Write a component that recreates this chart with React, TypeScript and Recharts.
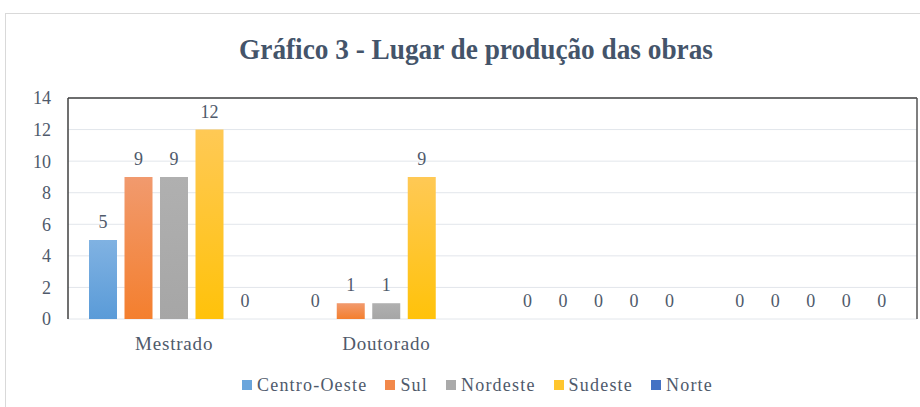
import { BarChart, Bar, XAxis, YAxis, CartesianGrid, LabelList, ReferenceLine } from 'recharts';

const categories = ['Mestrado', 'Doutorado', ' ', '  '];
const centroOeste = [5, 0, 0, 0];
const sul = [9, 1, 0, 0];
const nordeste = [9, 1, 0, 0];
const sudeste = [12, 9, 0, 0];
const norte = [0, null, 0, 0];
const yTicks = [0, 2, 4, 6, 8, 10, 12, 14];

const SERIES = [
  { key: 'Centro-Oeste', values: centroOeste, top: '#80b2e2', bottom: '#5a9bd8', legend: '#6aa5dc' },
  { key: 'Sul', values: sul, top: '#f19a6e', bottom: '#f47f2e', legend: '#f2884a' },
  { key: 'Nordeste', values: nordeste, top: '#b0b0b0', bottom: '#a6a6a6', legend: '#aaaaaa' },
  { key: 'Sudeste', values: sudeste, top: '#ffc955', bottom: '#ffc20a', legend: '#ffc62e' },
  { key: 'Norte', values: norte, top: '#4d7bcb', bottom: '#4472c4', legend: '#4472c4' }
];

const FONT = 'Liberation Serif';
const TEXT = '#4f5a6b';

const data = categories.map((cat, i) => {
  const row: Record<string, string | number | null> = { cat };
  SERIES.forEach((s) => {
    row[s.key] = s.values[i];
  });
  return row;
});

// value above the bar, zero bars included
const ValueLabel = (props: any) => {
  const { x, y, width, height, value } = props;
  if (value === undefined || value === null) return null;
  const top = Math.min(y, y + height);
  return (
    <text x={x + width / 2} y={top - 12} textAnchor="middle" fill={TEXT} fontSize={18} fontFamily={FONT}>
      {value}
    </text>
  );
};

export default function App() {
  return (
    <div style={{ position: 'absolute', left: 0, top: 0, width: 920, height: 407, background: '#fff', overflow: 'hidden', fontFamily: FONT }}>
      <div style={{ position: 'absolute', left: 5, top: 13, width: 940, height: 420, border: '1px solid #d9d9d9' }} />
      <div
        style={{
          position: 'absolute',
          left: 0,
          top: 35,
          width: 952,
          textAlign: 'center',
          fontSize: 29,
          lineHeight: 1,
          fontWeight: 'bold',
          color: '#44546a',
          transform: 'scaleX(0.94)',
          transformOrigin: '476px 0'
        }}
      >
        Gráfico 3 - Lugar de produção das obras
      </div>
      <div style={{ position: 'absolute', top: 0, left: 0 }}>
        <BarChart
          width={920}
          height={407}
          data={data}
          margin={{ top: 98, right: 0, left: 0, bottom: 0 }}
          barSize={28}
          barGap={7.5}
        >
          <defs>
            {SERIES.map((s, i) => (
              <linearGradient key={s.key} id={`grad-${i}`} x1="0" y1="0" x2="0" y2="1">
                <stop offset="0%" stopColor={s.top} />
                <stop offset="100%" stopColor={s.bottom} />
              </linearGradient>
            ))}
          </defs>
          <CartesianGrid vertical={false} stroke="#e2e6eb" yAxisId="left" />
          <XAxis
            dataKey="cat"
            height={88}
            axisLine={false}
            tickLine={false}
            tickSize={0}
            tickMargin={18}
            tick={{ fontSize: 19, fill: TEXT, fontFamily: FONT, letterSpacing: 0.8 }}
          />
          <YAxis
            yAxisId="left"
            width={68}
            domain={[0, 14]}
            ticks={yTicks}
            interval={0}
            axisLine={{ stroke: '#404040', strokeWidth: 1.5 }}
            tickLine={false}
            tickSize={0}
            tickMargin={17}
            tick={{ fontSize: 18, fill: TEXT, fontFamily: FONT }}
          />
          <YAxis
            yAxisId="right"
            orientation="right"
            width={3}
            domain={[0, 14]}
            tick={false}
            tickLine={false}
            axisLine={{ stroke: '#555', strokeWidth: 1.5 }}
          />
          <ReferenceLine yAxisId="left" y={14} stroke="#404040" strokeWidth={1.5} />
          {SERIES.map((s, i) => (
            <Bar key={s.key} yAxisId="left" dataKey={s.key} fill={`url(#grad-${i})`} minPointSize={0.01} isAnimationActive={false}>
              <LabelList dataKey={s.key} content={ValueLabel} />
            </Bar>
          ))}
        </BarChart>
      </div>
      <div style={{ position: 'absolute', left: 0, top: 374, width: 955, display: 'flex', justifyContent: 'center', gap: 18, fontSize: 18, lineHeight: '22px', color: TEXT, letterSpacing: 1.2 }}>
        {SERIES.map((s) => (
          <div key={s.key} style={{ display: 'flex', alignItems: 'center' }}>
            <span style={{ display: 'inline-block', width: 10, height: 10, background: s.legend, marginRight: 5 }} />
            <span>{s.key}</span>
          </div>
        ))}
      </div>
    </div>
  );
}
